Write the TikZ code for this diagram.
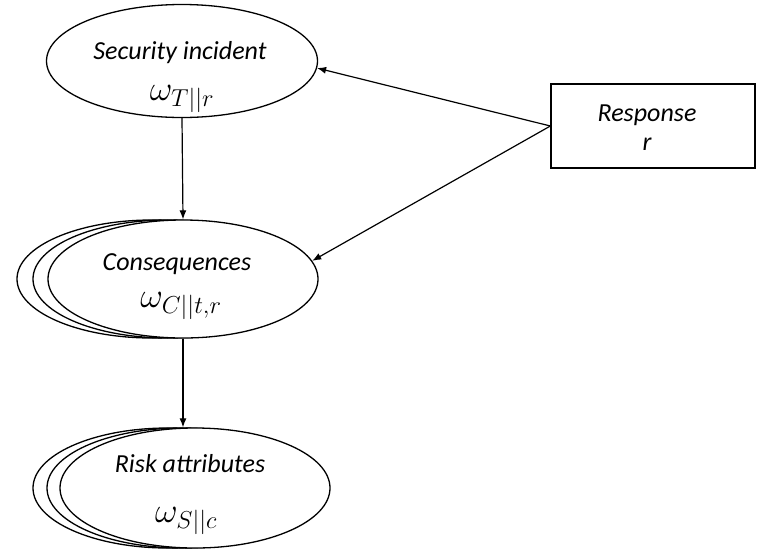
\documentclass[tikz,border=0pt]{standalone}
\usepackage{fix-cm}
\usepackage{fontspec}
\setmainfont{Carlito}
\usetikzlibrary{arrows.meta,shapes.geometric}
\begin{document}
\begin{tikzpicture}[x=1pt,y=-1pt,
  outline/.style={draw=black,line width=1.3pt},
  oval/.style={outline,ellipse,fill=white,inner sep=0pt},
  label/.style={font=\fontsize{26}{30}\selectfont\itshape,inner sep=0pt,anchor=base},
  sym/.style={font=\fontsize{35}{40}\selectfont,inner sep=0pt,anchor=base},
  link/.style={line width=1.2pt,-{Latex[length=9pt,width=7pt]}}]
\useasboundingbox (0,0) rectangle (760,550);

% security incident
\node[oval,minimum width=271pt,minimum height=113pt] (sec) at (182,61) {};
\node[label] (secT) at (180,59) {Security incident};
\node[sym] (secW) at (182,100) {$\omega_{T||r}$};

% consequences (stacked ovals)
\node[oval,minimum width=270pt,minimum height=118pt] (consA) at (152,279) {};
\node[oval,minimum width=270pt,minimum height=118pt] (consB) at (168,279) {};
\node[oval,minimum width=270pt,minimum height=118pt] (cons) at (183,279) {};
\node[label] (consT) at (177,270) {Consequences};
\node[sym] (consW) at (181,307) {$\omega_{C||t,r}$};

% risk attributes (stacked ovals)
\node[oval,minimum width=270pt,minimum height=120pt] (riskA) at (168,488) {};
\node[oval,minimum width=270pt,minimum height=120pt] (riskB) at (182,488) {};
\node[oval,minimum width=270pt,minimum height=120pt] (risk) at (195,488) {};
\node[label] (riskT) at (190,472) {Risk attributes};
\node[sym] (riskW) at (186,522) {$\omega_{S||c}$};

% response
\node[outline,rectangle,minimum width=204pt,minimum height=84pt,inner sep=0pt] (resp) at (653,126) {};
\node[label] (respT) at (647,121) {Response};
\node[label] (respR) at (647,150) {r};

% connectors
\draw[link] (sec.south) -- (cons.north);
\draw[link] (cons.south) -- (cons.south |- risk.north);
\draw[link] (resp.west) -- (sec.-3);
\draw[link] (resp.west) -- (cons.8);
\end{tikzpicture}
\end{document}
